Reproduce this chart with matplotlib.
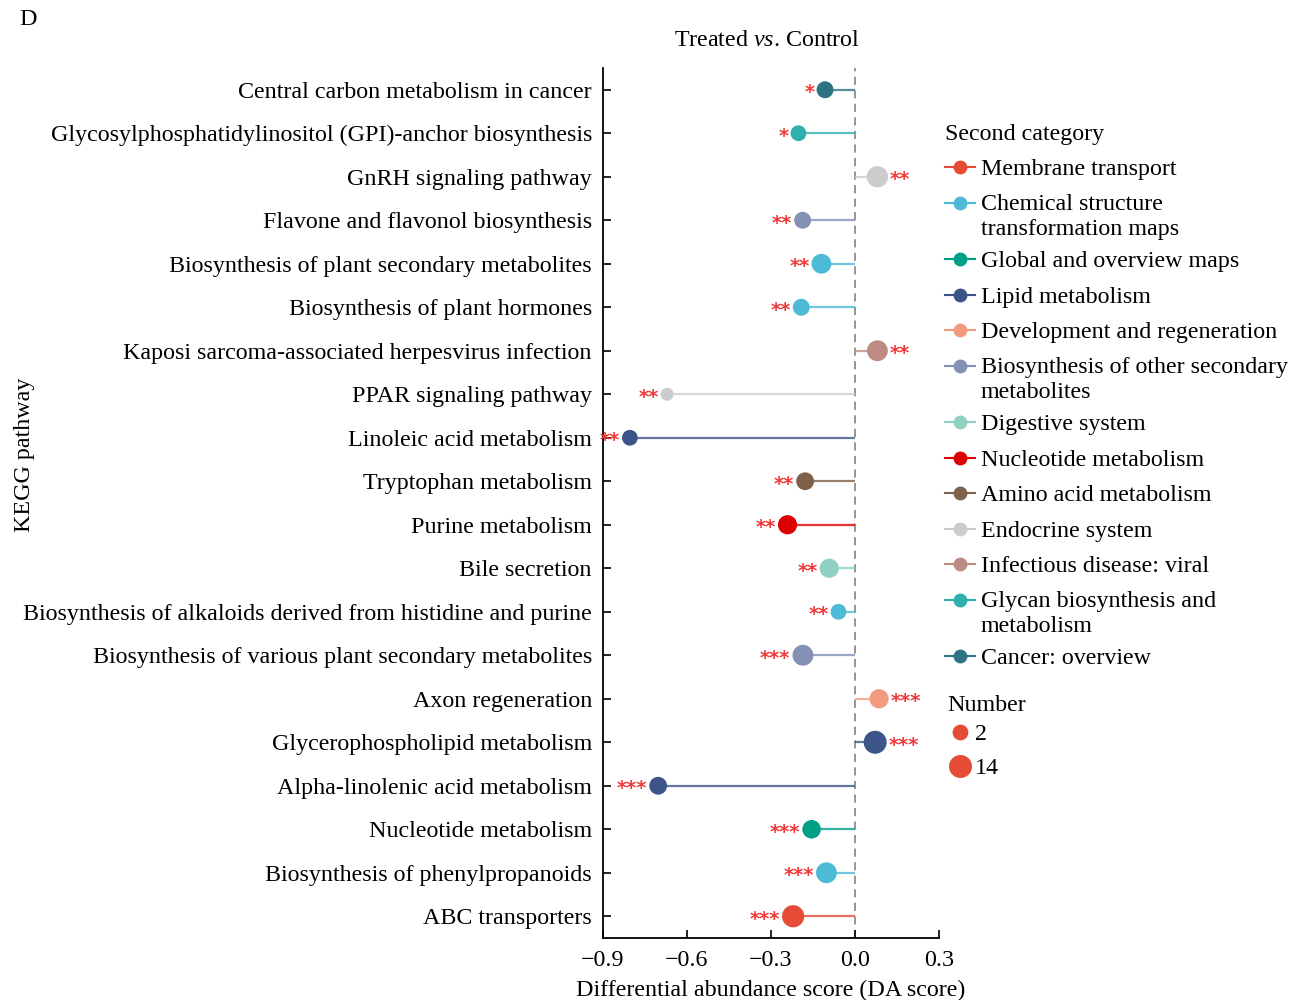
import numpy as np
import matplotlib.pyplot as plt

plt.rcParams['font.family'] = ['Liberation Serif', 'DejaVu Serif']
plt.rcParams['mathtext.fontset'] = 'custom'
plt.rcParams['mathtext.rm'] = 'Liberation Serif'
plt.rcParams['mathtext.it'] = 'Liberation Serif:italic'

FS = 17.3

# pathways listed top to bottom
pathways = [
    "Central carbon metabolism in cancer",
    "Glycosylphosphatidylinositol (GPI)-anchor biosynthesis",
    "GnRH signaling pathway",
    "Flavone and flavonol biosynthesis",
    "Biosynthesis of plant secondary metabolites",
    "Biosynthesis of plant hormones",
    "Kaposi sarcoma-associated herpesvirus infection",
    "PPAR signaling pathway",
    "Linoleic acid metabolism",
    "Tryptophan metabolism",
    "Purine metabolism",
    "Bile secretion",
    "Biosynthesis of alkaloids derived from histidine and purine",
    "Biosynthesis of various plant secondary metabolites",
    "Axon regeneration",
    "Glycerophospholipid metabolism",
    "Alpha-linolenic acid metabolism",
    "Nucleotide metabolism",
    "Biosynthesis of phenylpropanoids",
    "ABC transporters",
]
da_score = [-0.107, -0.202, 0.080, -0.187, -0.120, -0.192, 0.080, -0.671, -0.804, -0.178,
            -0.241, -0.092, -0.059, -0.186, 0.086, 0.072, -0.703, -0.155, -0.102, -0.221]
number = [3, 2, 10, 3, 7, 3, 9, 1, 2, 4, 6, 6, 2, 9, 6, 14, 4, 5, 9, 12]
signif = ["*", "*", "**", "**", "**", "**", "**", "**", "**", "**",
          "**", "**", "**", "***", "***", "***", "***", "***", "***", "***"]
category = [
    "Cancer: overview",
    "Glycan biosynthesis and metabolism",
    "Endocrine system",
    "Biosynthesis of other secondary metabolites",
    "Chemical structure transformation maps",
    "Chemical structure transformation maps",
    "Infectious disease: viral",
    "Endocrine system",
    "Lipid metabolism",
    "Amino acid metabolism",
    "Nucleotide metabolism",
    "Digestive system",
    "Chemical structure transformation maps",
    "Biosynthesis of other secondary metabolites",
    "Development and regeneration",
    "Lipid metabolism",
    "Lipid metabolism",
    "Global and overview maps",
    "Chemical structure transformation maps",
    "Membrane transport",
]

category_order = [
    "Membrane transport",
    "Chemical structure transformation maps",
    "Global and overview maps",
    "Lipid metabolism",
    "Development and regeneration",
    "Biosynthesis of other secondary metabolites",
    "Digestive system",
    "Nucleotide metabolism",
    "Amino acid metabolism",
    "Endocrine system",
    "Infectious disease: viral",
    "Glycan biosynthesis and metabolism",
    "Cancer: overview",
]
category_colors = ["#E64B35", "#4DBBD5", "#00A087", "#3C5488", "#F39B7F", "#8491B4",
                   "#91D1C2", "#DC0000", "#7E6148", "#CCCCCC", "#BC8C84", "#2FB0AC", "#2D7384"]
legend_labels = {
    "Chemical structure transformation maps": ["Chemical structure", "transformation maps"],
    "Biosynthesis of other secondary metabolites": ["Biosynthesis of other secondary", "metabolites"],
    "Glycan biosynthesis and metabolism": ["Glycan biosynthesis and", "metabolism"],
}
number_breaks = [2, 14]

color_of = dict(zip(category_order, category_colors))
colors = [color_of[c] for c in category]
star_color = "#F03A3A"


def dot_diameter(n):
    # area-style size scale, returned in points
    frac = np.sqrt((np.asarray(n, dtype=float) - 1) / 13)
    return (13 + 10 * frac) * 0.72


fig = plt.figure(figsize=(13, 10), dpi=100)
ax = fig.add_axes([603 / 1300, 62 / 1000, 336 / 1300, 870 / 1000])

ypos = np.arange(len(pathways))[::-1]
ax.axvline(0, color="#8c8c8c", lw=1.3, ls=(0, (4.5, 3)), zorder=1)
ax.hlines(ypos, 0, da_score, colors=colors, lw=1.6, alpha=0.8, zorder=2)
ax.scatter(da_score, ypos, s=dot_diameter(number) ** 2, c=colors, linewidths=0, zorder=3)

for y, v, n, s in zip(ypos, da_score, number, signif):
    off = dot_diameter(n) / 2 + 1.5
    ax.annotate(s, (v, y), xytext=(off if v > 0 else -off, -2), textcoords="offset points",
                ha="left" if v > 0 else "right", va="center", color=star_color,
                fontsize=14, fontweight="bold", family="DejaVu Sans", annotation_clip=False)

ax.set_xlim(-0.9, 0.3)
ax.set_ylim(-0.5, len(pathways) - 0.5)
ax.set_xticks([-0.9, -0.6, -0.3, 0.0, 0.3])
ax.set_yticks(ypos)
ax.set_yticklabels(pathways)
ax.tick_params(direction="in", length=6, width=1.2, labelsize=FS, colors="black")
ax.tick_params(axis="y", pad=8)
ax.tick_params(axis="x", pad=9)
for side in ["top", "right"]:
    ax.spines[side].set_visible(False)
for side in ["left", "bottom"]:
    ax.spines[side].set_linewidth(1.3)
ax.set_xlabel("Differential abundance score (DA score)", fontsize=FS, labelpad=6)

fig.text(25 / 1300, 1 - 455 / 1000, "KEGG pathway", rotation=90, ha="center", va="center", fontsize=FS)
fig.text(767 / 1300, 1 - 38 / 1000, r"Treated $\mathit{vs}$. Control", ha="center",
         va="center_baseline", fontsize=FS)
fig.text(28 / 1300, 1 - 17 / 1000, "D", ha="center", va="center_baseline", fontsize=FS)

# legends drawn on an overlay in pixel units
lax = fig.add_axes([0, 0, 1, 1], zorder=-1)
lax.set_xlim(0, 1300)
lax.set_ylim(1000, 0)
lax.axis("off")

lax.text(945, 132, "Second category", fontsize=FS, va="center_baseline")
y = 167
for name, col in zip(category_order, category_colors):
    lines = legend_labels.get(name, [name])
    lax.plot([945, 975], [y, y], color=col, lw=1.5)
    lax.plot([960], [y], "o", color=col, ms=10, mec="none")
    for i, line in enumerate(lines):
        lax.text(981, y + 25 * i, line, fontsize=FS, va="center_baseline")
    y += 35.5 + 21 * (len(lines) - 1)

lax.text(947, 703, "Number", fontsize=FS, va="center_baseline")
for y, n in zip([732, 766], number_breaks):
    lax.scatter([960], [y], s=dot_diameter(n) ** 2, color="#E64B35", linewidths=0)
    lax.text(975, y, str(n), fontsize=FS, va="center_baseline")

fig.savefig("out.png", dpi=100)
